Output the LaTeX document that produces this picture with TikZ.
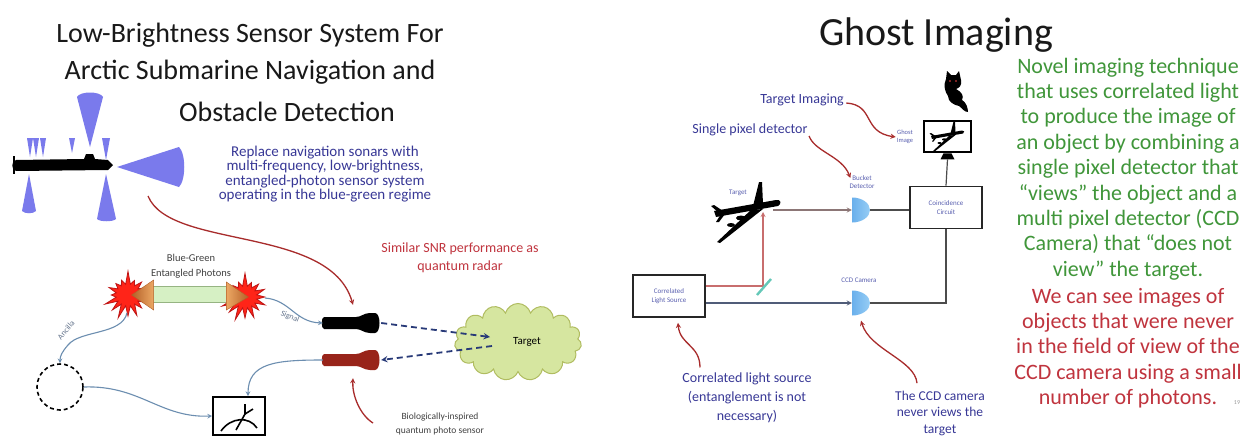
\documentclass[tikz,border=0pt]{standalone}
\usepackage{fontspec}
\setmainfont{Carlito}
\usetikzlibrary{arrows.meta, positioning, calc, shapes.geometric, shapes.symbols}

\definecolor{titleink}{RGB}{25,25,25}
\definecolor{noteblue}{RGB}{56,56,150}
\definecolor{notered}{RGB}{192,52,62}
\definecolor{notegreen}{RGB}{64,150,58}
\definecolor{sonarblue}{RGB}{122,122,236}
\definecolor{arrowred}{RGB}{168,44,44}
\definecolor{linkblue}{RGB}{108,142,176}
\definecolor{raynavy}{RGB}{40,58,120}
\definecolor{cloudfill}{RGB}{214,230,160}
\definecolor{cloudedge}{RGB}{176,188,96}
\definecolor{barfill}{RGB}{214,240,196}
\definecolor{baredge}{RGB}{150,180,130}
\definecolor{headdark}{RGB}{180,96,40}
\definecolor{headlight}{RGB}{236,168,100}
\definecolor{burstred}{RGB}{255,36,24}
\definecolor{burstedge}{RGB}{190,20,20}
\definecolor{sensorred}{RGB}{152,36,26}
\definecolor{detblue}{RGB}{62,146,226}
\definecolor{detlight}{RGB}{150,205,245}
\definecolor{splitteal}{RGB}{100,200,184}
\definecolor{beamred}{RGB}{200,110,110}
\definecolor{beamgrey}{RGB}{80,92,120}
\definecolor{beambrown}{RGB}{140,118,118}
\definecolor{labelblue}{RGB}{90,96,176}
\definecolor{linklabel}{RGB}{100,116,140}

\begin{document}
\begin{tikzpicture}[
        x=1pt, y=-1pt,
        >=stealth,
        heading/.style={text=titleink, font=\fontsize{28}{38}\selectfont},
        note/.style={align=center, text=noteblue, font=\fontsize{14}{19}\selectfont},
        warn/.style={align=center, text=notered, font=\fontsize{14}{18}\selectfont},
        fine/.style={align=center, text=black!75, font=\fontsize{10.5}{15}\selectfont},
        lbl/.style={align=center, text=labelblue, font=\fontsize{7}{8.5}\selectfont, inner sep=1pt},
        box/.style={rectangle, draw=black!85, line width=1.6pt, minimum width=72pt, minimum height=42pt, align=center, inner sep=1pt, text=labelblue, font=\fontsize{7}{9}\selectfont},
        det/.style={minimum width=18pt, minimum height=25pt, inner sep=0pt, path picture={\shade[left color=detblue, right color=detlight] (path picture bounding box.west) ellipse [x radius=18pt, y radius=12.5pt];}},
        burst/.style={starburst, starburst points=16, starburst point height=14pt, random starburst=7, fill=burstred, draw=burstedge, line width=0.8pt, minimum width=52pt, minimum height=50pt, inner sep=0pt},
        bar/.style={rectangle, fill=barfill, draw=baredge, line width=0.8pt, minimum width=80pt, minimum height=16pt},
        probe/.style={minimum width=58pt, minimum height=20pt, inner sep=0pt},
        screen/.style={rectangle, draw=black, fill=white, line width=2.6pt, minimum width=47pt, minimum height=31pt},
        redarrow/.style={->, draw=arrowred, line width=1.3pt},
        link/.style={->, draw=linkblue, line width=1.1pt},
        ray/.style={->, draw=raynavy, dash pattern=on 6pt off 4pt, line width=1.8pt},
        redbeam/.style={draw=beamred, line width=1.2pt},
        wire/.style={draw=black!70, line width=1.2pt},
        sensor/.pic={
            \fill (-28,-6) -- (4,-6) .. controls (9,-6) and (12,-10) .. (18,-10) -- (23,-10) .. controls (29,-10) and (29,10) .. (23,10) -- (18,10) .. controls (12,10) and (9,6) .. (4,6) -- (-28,6) .. controls (-31,6) and (-31,-6) .. (-28,-6) -- cycle;
        },
        plane/.pic={
            \fill (-33,-1) -- (29,-12) .. controls (34,-13) and (35,-8) .. (31,-6) -- (-31,5) -- cycle;
            \fill (6,-6) -- (12,-30) -- (15,-30) -- (16,-8) -- cycle;
            \fill (4,-2) -- (-30,30) -- (-27,31) -- (16,-3) -- cycle;
            \fill (-28,1) -- (-36,-6) -- (-33,-7) -- (-24,-1) -- cycle;
            \fill (-26,2) -- (-31,10) -- (-28,10) -- (-22,2) -- cycle;
            \fill (-6,6) ellipse [x radius=5, y radius=2.5];
            \fill (-16,13) ellipse [x radius=4, y radius=2];
        }
    ]
        \path[use as bounding box, fill=white] (0,0) rectangle (1244,439);

        % Titles
        \node[heading] (title1) at (250,35) {Low-Brightness Sensor System For};
        \node[heading] (title2) at (250,72) {Arctic Submarine Navigation and};
        \node[heading] (title3) at (287,112) {Obstacle Detection};
        \node[heading, font=\fontsize{40}{48}\selectfont] (title4) at (936,35) {Ghost Imaging};

        % Sonar beams round the submarine
        \fill[sonarblue] (90,147) -- (77,97) .. controls (80,91) and (100,91) .. (103,97) -- cycle;
        \fill[sonarblue] (117,167) -- (179,147) .. controls (186,154) and (186,180) .. (179,187) -- cycle;
        \fill[sonarblue] (22,211) .. controls (25,214) and (33,214) .. (36,211) -- (29,174) -- cycle;
        \fill[sonarblue] (97,219) .. controls (100,222) and (113,222) .. (116,219) -- (106,174) -- cycle;
        \fill[sonarblue] (27,138) -- (33,138) -- (30,157) -- cycle;
        \fill[sonarblue] (33,138) -- (39,138) -- (36,157) -- cycle;
        \fill[sonarblue] (40,138) -- (46,138) -- (43,157) -- cycle;
        \fill[sonarblue] (69,138) -- (75,138) -- (72,153) -- cycle;
        \fill[sonarblue] (102,138) -- (110,138) -- (106,160) -- cycle;

        % Submarine
        \fill[black] (16,160) -- (84,159) -- (86,154) -- (93,154) -- (95,159) -- (108,160) -- (113,165) -- (108,170) -- (16,171) .. controls (11,170) and (11,161) .. (16,160) -- cycle;
        \draw[black, line width=2pt] (14,156) -- (14,174);

        \node[note, font=\fontsize{15}{14.5}\selectfont] (replace) at (325,174) {Replace navigation sonars with\\multi-frequency, low-brightness,\\entangled-photon sensor system\\operating in the blue-green regime};
        \node[warn] (snr) at (460,258) {Similar SNR performance as\\quantum radar};

        % Entangled photon source
        \node[burst] (lstar) at (128,295) {};
        \node[burst] (rstar) at (245,297) {};
        \node[bar] (photons) at (190,294) {};
        \shadedraw[left color=headdark, right color=headlight, draw=headdark] ($(photons.west)+(-18,1)$) -- ($(photons.west)+(4,-14)$) -- ($(photons.west)+(4,16)$) -- cycle;
        \shadedraw[left color=headlight, right color=headdark, draw=headdark] ($(photons.east)+(18,3)$) -- ($(photons.east)+(-4,-12)$) -- ($(photons.east)+(-4,16)$) -- cycle;
        \node[fine] (bglbl) at (191,266) {Blue-Green\\Entangled Photons};

        % Detectors and target
        \node[probe] (sigsens) at (352,323) {};
        \node[probe] (bio) at (352,360) {};
        \pic[color=black] at (sigsens) {sensor};
        \pic[color=sensorred] at (bio) {sensor};
        \node[cloud, cloud puffs=15, aspect=1.65, draw=cloudedge, fill=cloudfill, line width=1pt, minimum width=127pt, minimum height=77pt, inner sep=0pt, font=\fontsize{11}{13}\selectfont] (target) at (518,342) {\hspace{18pt}Target};
        \node[circle, draw, dash pattern=on 4pt off 3pt, line width=1.6pt, minimum size=46pt] (idler) at (60,387) {};
        \node[rectangle, draw, line width=1.8pt, minimum width=52pt, minimum height=38pt] (meter) at (239,416) {};
        \draw[line width=1.6pt] ($(meter.center)+(-18,15)$) .. controls ($(meter.center)+(-8,1)$) and ($(meter.center)+(10,0)$) .. ($(meter.center)+(18,12)$);
        \draw[line width=1.6pt] ($(meter.center)+(-3,14)$) -- ($(meter.center)+(6,-2)$) -- ($(meter.center)+(6,-12)$);
        \draw[line width=1.6pt] ($(meter.center)+(6,-2)$) -- ($(meter.center)+(14,-7)$);

        \node[fine, font=\fontsize{9.5}{14}\selectfont] (biolbl) at (440,424) {Biologically-inspired\\quantum photo sensor};

        % Photon paths
        \draw[link] ($(rstar.center)+(20,1)$) .. controls (290,300) and (295,322) .. (sigsens.west);
        \node[text=linklabel, font=\fontsize{8}{9}\selectfont, rotate=-22] (siglbl) at (290,317) {Signal};
        \draw[link] ($(lstar.center)+(-1,18)$) .. controls (122,335) and (80,330) .. (68,345) .. controls (62,352) and (60,356) .. (idler.north);
        \node[text=linklabel, font=\fontsize{8}{9}\selectfont, rotate=50] (anclbl) at (66,330) {Ancilla};
        \draw[link] (idler.east) .. controls (140,385) and (160,418) .. (meter.west);
        \draw[link] (bio.west) .. controls (275,360) and (248,363) .. ($(meter.north)+(9,0)$);
        \draw[ray] (sigsens.east) -- ($(target.center)+(-28,-5)$);
        \draw[ray] ($(target.center)+(-26,4)$) -- (bio.east);

        % Annotation arrows
        \coordinate (sonarend) at (148,196);
        \coordinate (bioend) at (373,423);
        \draw[redarrow] (sonarend) .. controls (170,250) and (330,225) .. ($(sigsens.north)+(1,-8)$);
        \draw[redarrow] (bioend) .. controls (360,415) and (352,395) .. ($(bio.south)+(1,8)$);

        % Ghost imaging set-up
        \node[box] (src) at (669,296) {Correlated\\Light Source};
        \node[box] (coin) at (946,207.5) {Coincidence\\Circuit};
        \node[det] (bucket) at (861,210) {};
        \node[det] (ccd) at (861,303) {};
        \coordinate (plane) at (747,212);
        \pic[color=black] at (plane) {plane};
        \coordinate (split) at (763,286);

        \draw[redbeam] ($(src.east)+(0,-10)$) -- (split);
        \draw[redbeam, ->] (split) -- (split |- plane);
        \draw[splitteal, line width=2.4pt] ($(split)+(-6,9)$) -- ($(split)+(8,-7)$);
        \draw[draw=beambrown, line width=1.2pt, ->] ($(plane)+(26,-2)$) -- (bucket.west);
        \draw[draw=beamgrey, line width=1.2pt, ->] ($(src.east)+(0,7)$) -- (ccd.west);
        \draw[wire] (bucket.east) -- (bucket.east -| coin.west);
        \draw[wire] (ccd.east) -| (coin.south);

        % Screen with the ghost image
        \node[screen] (screen) at (947.5,136.5) {};
        \pic[color=black, scale=0.5] at (screen) {plane};
        \coordinate (stand) at ($(screen.south)+(0,6)$);
        \fill[black] ($(screen.south)+(-4,0)$) -- ($(screen.south)+(4,0)$) -- ($(stand)+(7,0)$) -- ($(stand)+(-7,0)$) -- cycle;
        \draw[wire] (coin.north) -- (stand);

        % Cat above the screen
        \coordinate (cat) at (954,92);
        \fill[black] ($(cat)+(-8,-13)$) -- ($(cat)+(-7,-21)$) -- ($(cat)+(-3,-17)$) -- ($(cat)+(2,-17)$) -- ($(cat)+(5,-21)$) -- ($(cat)+(7,-12)$) .. controls ($(cat)+(8,-6)$) and ($(cat)+(5,-4)$) .. ($(cat)+(2,-3)$) .. controls ($(cat)+(8,0)$) and ($(cat)+(10,4)$) .. ($(cat)+(8,8)$) .. controls ($(cat)+(12,10)$) and ($(cat)+(14,16)$) .. ($(cat)+(14,20)$) .. controls ($(cat)+(10,20)$) and ($(cat)+(8,16)$) .. ($(cat)+(5,14)$) .. controls ($(cat)+(0,13)$) and ($(cat)+(-6,10)$) .. ($(cat)+(-6,4)$) .. controls ($(cat)+(-9,0)$) and ($(cat)+(-11,-7)$) .. ($(cat)+(-8,-13)$) -- cycle;
        \fill[arrowred] ($(cat)+(-4,-11)$) circle (1.2);
        \fill[arrowred] ($(cat)+(2,-11)$) circle (1.2);

        % Small labels of the set-up
        \node[lbl] (planelbl) at (738,193) {Target};
        \node[lbl] (bucketlbl) at (862,182) {Bucket\\Detector};
        \node[lbl, font=\fontsize{6.5}{8}\selectfont] (ghostlbl) at (905,137) {Ghost\\Image};
        \node[lbl] (ccdlbl) at (859,280) {CCD Camera};

        % Notes round the set-up
        \node[note] (imgnote) at (802,100) {Target Imaging};
        \node[note] (pixnote) at (750,130) {Single pixel detector};
        \node[note] (srcnote) at (747,398) {Correlated light source\\(entanglement is not\\necessary)};
        \node[note, font=\fontsize{13.5}{16.5}\selectfont] (ccdnote) at (940,413) {The CCD camera\\never views the\\target};

        \draw[redarrow] ($(imgnote.east)+(-1,3)$) .. controls (875,105) and (862,132) .. (ghostlbl.west);
        \draw[redarrow] ($(pixnote.east)+(-2,6)$) .. controls (815,152) and (842,156) .. ($(bucketlbl.west)+(2,-4)$);
        \draw[redarrow] ($(srcnote.north)+(-47,-2)$) .. controls (700,345) and (680,345) .. ($(src.south)+(9,5)$);
        \draw[redarrow] ($(ccdnote.north)+(-23,-4)$) .. controls (915,360) and (870,350) .. ($(ccd.south)+(0,5)$);

        % Text column
        \node[align=center, text=notegreen, font=\fontsize{22}{25.4}\selectfont] (about) at (1128,169) {Novel imaging technique\\that uses correlated light\\to produce the image of\\an object by combining a\\single pixel detector that\\“views” the object and a\\multi pixel detector (CCD\\Camera) that “does not\\view” the target.};
        \node[align=center, text=notered, font=\fontsize{22}{25.2}\selectfont] (claim) at (1128,348) {We can see images of\\objects that were never\\in the field of view of the\\CCD camera using a small\\number of photons.};
        \node[text=black!40, font=\fontsize{6}{7}\selectfont] (pageno) at (1237,403) {19};

    \end{tikzpicture}
\end{document}
